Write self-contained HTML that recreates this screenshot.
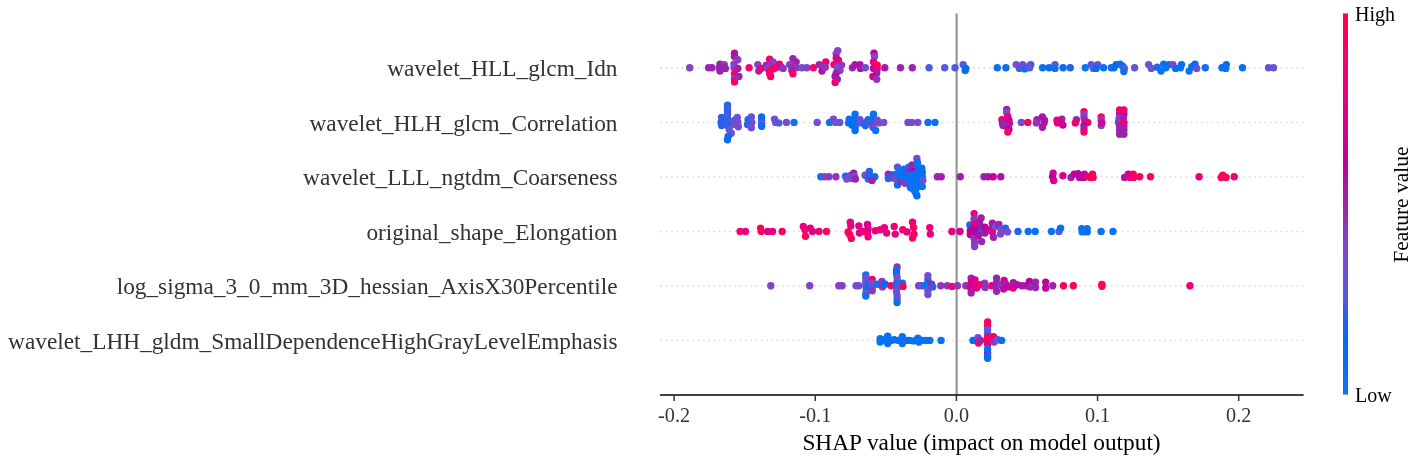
<!DOCTYPE html><html><head><meta charset="utf-8"><style>html,body{margin:0;padding:0;background:#fff;width:1417px;height:463px;overflow:hidden}svg{display:block}text{font-family:"Liberation Serif",serif}</style></head><body>
<svg style="will-change:transform" width="1417" height="463" viewBox="0 0 1417 463">
<line x1="660.1" y1="68.0" x2="1303.5" y2="68.0" stroke="#e0e0e0" stroke-width="1.4" stroke-dasharray="2 3.3025"/>
<line x1="660.1" y1="122.5" x2="1303.5" y2="122.5" stroke="#e0e0e0" stroke-width="1.4" stroke-dasharray="2 3.3025"/>
<line x1="660.1" y1="177.0" x2="1303.5" y2="177.0" stroke="#e0e0e0" stroke-width="1.4" stroke-dasharray="2 3.3025"/>
<line x1="660.1" y1="231.5" x2="1303.5" y2="231.5" stroke="#e0e0e0" stroke-width="1.4" stroke-dasharray="2 3.3025"/>
<line x1="660.1" y1="286.0" x2="1303.5" y2="286.0" stroke="#e0e0e0" stroke-width="1.4" stroke-dasharray="2 3.3025"/>
<line x1="660.1" y1="340.5" x2="1303.5" y2="340.5" stroke="#e0e0e0" stroke-width="1.4" stroke-dasharray="2 3.3025"/>
<line x1="956.6" y1="13.5" x2="956.6" y2="395" stroke="#979797" stroke-width="2.2"/>
<g><circle cx="689.7" cy="67.8" r="3.7" fill="#8443c6"/><circle cx="708.6" cy="67.8" r="3.7" fill="#9b23ad"/><circle cx="711.9" cy="67.8" r="3.7" fill="#9b23ad"/><circle cx="720.0" cy="64.1" r="3.7" fill="#9b23ad"/><circle cx="724.3" cy="64.6" r="3.7" fill="#8443c6"/><circle cx="719.4" cy="67.8" r="3.7" fill="#9b23ad"/><circle cx="723.2" cy="67.3" r="3.7" fill="#9b23ad"/><circle cx="725.4" cy="68.4" r="3.7" fill="#9b23ad"/><circle cx="720.0" cy="71.1" r="3.7" fill="#9b23ad"/><circle cx="734.5" cy="53.3" r="3.7" fill="#ab15a7"/><circle cx="734.5" cy="56.5" r="3.7" fill="#ab15a7"/><circle cx="737.8" cy="59.7" r="3.7" fill="#8443c6"/><circle cx="734.0" cy="64.1" r="3.7" fill="#9135ba"/><circle cx="734.0" cy="67.8" r="3.7" fill="#764cd0"/><circle cx="737.8" cy="68.4" r="3.7" fill="#9b23ad"/><circle cx="734.5" cy="73.8" r="3.7" fill="#f90067"/><circle cx="738.9" cy="76.5" r="3.7" fill="#9b23ad"/><circle cx="734.5" cy="78.6" r="3.7" fill="#9135ba"/><circle cx="734.5" cy="81.9" r="3.7" fill="#f90067"/><circle cx="749.1" cy="67.8" r="3.7" fill="#f90067"/><circle cx="757.8" cy="64.6" r="3.7" fill="#8443c6"/><circle cx="758.8" cy="71.1" r="3.7" fill="#9b23ad"/><circle cx="761.0" cy="68.4" r="3.7" fill="#f20072"/><circle cx="769.6" cy="59.2" r="3.7" fill="#f90067"/><circle cx="772.9" cy="61.9" r="3.7" fill="#8443c6"/><circle cx="766.4" cy="65.1" r="3.7" fill="#9b23ad"/><circle cx="770.7" cy="65.1" r="3.7" fill="#9135ba"/><circle cx="775.0" cy="64.6" r="3.7" fill="#8443c6"/><circle cx="767.5" cy="68.4" r="3.7" fill="#8443c6"/><circle cx="769.6" cy="71.1" r="3.7" fill="#f90067"/><circle cx="772.9" cy="68.9" r="3.7" fill="#f90067"/><circle cx="776.1" cy="67.8" r="3.7" fill="#f90067"/><circle cx="769.6" cy="73.8" r="3.7" fill="#f90067"/><circle cx="770.7" cy="76.5" r="3.7" fill="#f90067"/><circle cx="779.4" cy="64.1" r="3.7" fill="#f20072"/><circle cx="781.5" cy="67.3" r="3.7" fill="#9b23ad"/><circle cx="783.1" cy="68.4" r="3.7" fill="#9135ba"/><circle cx="792.9" cy="58.7" r="3.7" fill="#9b23ad"/><circle cx="796.1" cy="61.9" r="3.7" fill="#9b23ad"/><circle cx="789.6" cy="64.6" r="3.7" fill="#8443c6"/><circle cx="792.3" cy="67.3" r="3.7" fill="#9135ba"/><circle cx="796.6" cy="67.8" r="3.7" fill="#9135ba"/><circle cx="791.8" cy="70.5" r="3.7" fill="#9b23ad"/><circle cx="792.9" cy="73.8" r="3.7" fill="#f90067"/><circle cx="802.0" cy="67.8" r="3.7" fill="#764cd0"/><circle cx="806.9" cy="67.8" r="3.7" fill="#8443c6"/><circle cx="813.4" cy="67.8" r="3.7" fill="#f90067"/><circle cx="819.3" cy="64.6" r="3.7" fill="#9b23ad"/><circle cx="825.8" cy="61.9" r="3.7" fill="#f20072"/><circle cx="822.5" cy="67.8" r="3.7" fill="#9135ba"/><circle cx="822.0" cy="71.1" r="3.7" fill="#ab15a7"/><circle cx="825.2" cy="67.3" r="3.7" fill="#9135ba"/><circle cx="837.8" cy="50.6" r="3.7" fill="#8443c6"/><circle cx="836.2" cy="53.8" r="3.7" fill="#8443c6"/><circle cx="838.4" cy="60.3" r="3.7" fill="#d5008f"/><circle cx="836.2" cy="58.1" r="3.7" fill="#e00086"/><circle cx="834.0" cy="64.6" r="3.7" fill="#f20072"/><circle cx="841.6" cy="65.1" r="3.7" fill="#9135ba"/><circle cx="837.3" cy="67.8" r="3.7" fill="#764cd0"/><circle cx="840.0" cy="70.5" r="3.7" fill="#8443c6"/><circle cx="836.2" cy="73.2" r="3.7" fill="#9b23ad"/><circle cx="835.1" cy="76.5" r="3.7" fill="#ab15a7"/><circle cx="837.3" cy="79.2" r="3.7" fill="#9b23ad"/><circle cx="835.1" cy="82.4" r="3.7" fill="#f90067"/><circle cx="852.4" cy="67.8" r="3.7" fill="#9b23ad"/><circle cx="855.1" cy="64.6" r="3.7" fill="#ab15a7"/><circle cx="860.0" cy="64.6" r="3.7" fill="#ab15a7"/><circle cx="860.5" cy="68.4" r="3.7" fill="#ab15a7"/><circle cx="865.4" cy="67.8" r="3.7" fill="#764cd0"/><circle cx="874.0" cy="53.3" r="3.7" fill="#bb00a0"/><circle cx="874.5" cy="56.5" r="3.7" fill="#764cd0"/><circle cx="873.5" cy="61.9" r="3.7" fill="#e9007c"/><circle cx="877.2" cy="65.1" r="3.7" fill="#fe005c"/><circle cx="873.5" cy="68.4" r="3.7" fill="#c80098"/><circle cx="877.2" cy="68.9" r="3.7" fill="#f20072"/><circle cx="876.7" cy="73.2" r="3.7" fill="#9b23ad"/><circle cx="872.9" cy="76.5" r="3.7" fill="#d5008f"/><circle cx="876.7" cy="79.2" r="3.7" fill="#9135ba"/><circle cx="884.8" cy="67.8" r="3.7" fill="#ab15a7"/><circle cx="900.5" cy="67.8" r="3.7" fill="#9b23ad"/><circle cx="912.3" cy="67.8" r="3.7" fill="#9b23ad"/><circle cx="929.1" cy="67.8" r="3.7" fill="#4f5ce0"/><circle cx="944.7" cy="67.8" r="3.7" fill="#4f5ce0"/><circle cx="955.0" cy="67.8" r="3.7" fill="#4f5ce0"/><circle cx="963.1" cy="64.6" r="3.7" fill="#4f5ce0"/><circle cx="965.2" cy="70.5" r="3.7" fill="#0972f2"/><circle cx="965.8" cy="68.4" r="3.7" fill="#086def"/><circle cx="997.3" cy="67.8" r="3.7" fill="#0972f2"/><circle cx="1005.9" cy="67.8" r="3.7" fill="#086def"/><circle cx="1016.2" cy="64.6" r="3.7" fill="#764cd0"/><circle cx="1019.4" cy="68.4" r="3.7" fill="#4f5ce0"/><circle cx="1022.6" cy="64.6" r="3.7" fill="#8443c6"/><circle cx="1024.8" cy="68.9" r="3.7" fill="#0972f2"/><circle cx="1029.7" cy="67.8" r="3.7" fill="#4f5ce0"/><circle cx="1030.7" cy="64.6" r="3.7" fill="#2862e6"/><circle cx="1029.1" cy="66.2" r="3.7" fill="#6654d8"/><circle cx="1042.6" cy="67.8" r="3.7" fill="#0972f2"/><circle cx="1049.1" cy="67.8" r="3.7" fill="#086def"/><circle cx="1055.0" cy="64.6" r="3.7" fill="#4f5ce0"/><circle cx="1055.0" cy="68.4" r="3.7" fill="#0972f2"/><circle cx="1063.1" cy="67.8" r="3.7" fill="#086def"/><circle cx="1070.2" cy="67.8" r="3.7" fill="#2862e6"/><circle cx="1085.3" cy="67.8" r="3.7" fill="#0972f2"/><circle cx="1091.2" cy="64.6" r="3.7" fill="#4f5ce0"/><circle cx="1093.4" cy="68.4" r="3.7" fill="#6654d8"/><circle cx="1097.7" cy="64.6" r="3.7" fill="#6654d8"/><circle cx="1096.1" cy="68.4" r="3.7" fill="#086def"/><circle cx="1103.6" cy="67.8" r="3.7" fill="#0972f2"/><circle cx="1111.3" cy="67.8" r="3.7" fill="#0972f2"/><circle cx="1114.0" cy="67.8" r="3.7" fill="#086def"/><circle cx="1116.2" cy="64.6" r="3.7" fill="#0668eb"/><circle cx="1120.0" cy="64.1" r="3.7" fill="#086def"/><circle cx="1122.7" cy="66.2" r="3.7" fill="#086def"/><circle cx="1124.3" cy="68.4" r="3.7" fill="#764cd0"/><circle cx="1123.8" cy="71.6" r="3.7" fill="#0972f2"/><circle cx="1134.6" cy="67.8" r="3.7" fill="#6654d8"/><circle cx="1148.6" cy="64.6" r="3.7" fill="#764cd0"/><circle cx="1151.3" cy="68.4" r="3.7" fill="#6654d8"/><circle cx="1157.2" cy="67.3" r="3.7" fill="#2862e6"/><circle cx="1161.0" cy="71.1" r="3.7" fill="#0972f2"/><circle cx="1163.7" cy="64.1" r="3.7" fill="#0972f2"/><circle cx="1165.9" cy="67.8" r="3.7" fill="#0972f2"/><circle cx="1169.1" cy="64.6" r="3.7" fill="#086def"/><circle cx="1172.9" cy="64.6" r="3.7" fill="#8443c6"/><circle cx="1175.6" cy="68.4" r="3.7" fill="#086def"/><circle cx="1180.5" cy="67.8" r="3.7" fill="#0972f2"/><circle cx="1181.5" cy="64.6" r="3.7" fill="#086def"/><circle cx="1189.1" cy="71.1" r="3.7" fill="#0972f2"/><circle cx="1191.8" cy="66.8" r="3.7" fill="#0972f2"/><circle cx="1195.0" cy="64.1" r="3.7" fill="#086def"/><circle cx="1196.7" cy="68.4" r="3.7" fill="#764cd0"/><circle cx="1205.3" cy="67.8" r="3.7" fill="#0972f2"/><circle cx="1222.0" cy="67.8" r="3.7" fill="#0972f2"/><circle cx="1226.3" cy="64.6" r="3.7" fill="#086def"/><circle cx="1225.8" cy="68.4" r="3.7" fill="#0972f2"/><circle cx="1242.5" cy="67.8" r="3.7" fill="#0972f2"/><circle cx="1268.6" cy="67.8" r="3.7" fill="#6654d8"/><circle cx="1273.5" cy="67.8" r="3.7" fill="#6654d8"/><circle cx="721.6" cy="117.5" r="3.7" fill="#2862e6"/><circle cx="721.1" cy="122.4" r="3.7" fill="#2862e6"/><circle cx="721.6" cy="125.6" r="3.7" fill="#2862e6"/><circle cx="723.8" cy="120.2" r="3.7" fill="#2862e6"/><circle cx="724.3" cy="124.0" r="3.7" fill="#2862e6"/><circle cx="734.6" cy="120.2" r="3.7" fill="#764cd0"/><circle cx="737.3" cy="117.5" r="3.7" fill="#764cd0"/><circle cx="737.8" cy="122.4" r="3.7" fill="#764cd0"/><circle cx="738.3" cy="126.7" r="3.7" fill="#764cd0"/><circle cx="734.6" cy="124.5" r="3.7" fill="#764cd0"/><circle cx="732.4" cy="122.4" r="3.7" fill="#6654d8"/><circle cx="727.5" cy="105.1" r="3.7" fill="#086def"/><circle cx="727.5" cy="108.3" r="3.7" fill="#4f5ce0"/><circle cx="727.5" cy="111.6" r="3.7" fill="#2862e6"/><circle cx="727.5" cy="114.8" r="3.7" fill="#3c60e4"/><circle cx="727.5" cy="118.6" r="3.7" fill="#3c60e4"/><circle cx="727.5" cy="122.4" r="3.7" fill="#3c60e4"/><circle cx="727.5" cy="125.6" r="3.7" fill="#2862e6"/><circle cx="729.2" cy="129.4" r="3.7" fill="#6654d8"/><circle cx="731.3" cy="133.2" r="3.7" fill="#6654d8"/><circle cx="728.1" cy="136.4" r="3.7" fill="#086def"/><circle cx="727.5" cy="139.7" r="3.7" fill="#086def"/><circle cx="751.3" cy="117.0" r="3.7" fill="#764cd0"/><circle cx="748.1" cy="119.7" r="3.7" fill="#2862e6"/><circle cx="751.8" cy="122.4" r="3.7" fill="#764cd0"/><circle cx="747.5" cy="124.5" r="3.7" fill="#2862e6"/><circle cx="751.3" cy="127.8" r="3.7" fill="#764cd0"/><circle cx="761.6" cy="117.0" r="3.7" fill="#086def"/><circle cx="761.6" cy="120.2" r="3.7" fill="#086def"/><circle cx="761.6" cy="123.5" r="3.7" fill="#6654d8"/><circle cx="761.6" cy="126.2" r="3.7" fill="#086def"/><circle cx="774.5" cy="119.1" r="3.7" fill="#764cd0"/><circle cx="775.6" cy="122.4" r="3.7" fill="#764cd0"/><circle cx="778.8" cy="122.9" r="3.7" fill="#4f5ce0"/><circle cx="786.4" cy="122.4" r="3.7" fill="#764cd0"/><circle cx="794.0" cy="122.4" r="3.7" fill="#0972f2"/><circle cx="817.2" cy="122.4" r="3.7" fill="#764cd0"/><circle cx="829.6" cy="122.4" r="3.7" fill="#0972f2"/><circle cx="833.4" cy="119.1" r="3.7" fill="#764cd0"/><circle cx="835.5" cy="122.4" r="3.7" fill="#6654d8"/><circle cx="839.8" cy="122.4" r="3.7" fill="#6654d8"/><circle cx="849.2" cy="119.1" r="3.7" fill="#0972f2"/><circle cx="848.6" cy="122.9" r="3.7" fill="#0972f2"/><circle cx="851.9" cy="125.1" r="3.7" fill="#086def"/><circle cx="855.1" cy="114.3" r="3.7" fill="#0972f2"/><circle cx="855.1" cy="118.6" r="3.7" fill="#086def"/><circle cx="854.0" cy="122.4" r="3.7" fill="#0972f2"/><circle cx="855.1" cy="127.2" r="3.7" fill="#086def"/><circle cx="855.1" cy="130.5" r="3.7" fill="#086def"/><circle cx="860.0" cy="119.7" r="3.7" fill="#764cd0"/><circle cx="860.5" cy="122.9" r="3.7" fill="#6654d8"/><circle cx="865.4" cy="125.6" r="3.7" fill="#086def"/><circle cx="868.1" cy="119.7" r="3.7" fill="#086def"/><circle cx="865.9" cy="122.4" r="3.7" fill="#2862e6"/><circle cx="870.2" cy="122.9" r="3.7" fill="#6654d8"/><circle cx="873.5" cy="114.3" r="3.7" fill="#0972f2"/><circle cx="873.5" cy="118.6" r="3.7" fill="#0972f2"/><circle cx="872.4" cy="122.9" r="3.7" fill="#086def"/><circle cx="872.9" cy="127.2" r="3.7" fill="#8443c6"/><circle cx="875.6" cy="130.5" r="3.7" fill="#0972f2"/><circle cx="877.3" cy="120.2" r="3.7" fill="#764cd0"/><circle cx="878.9" cy="122.9" r="3.7" fill="#764cd0"/><circle cx="883.7" cy="122.4" r="3.7" fill="#764cd0"/><circle cx="908.0" cy="122.4" r="3.7" fill="#764cd0"/><circle cx="911.8" cy="122.4" r="3.7" fill="#764cd0"/><circle cx="917.8" cy="122.4" r="3.7" fill="#764cd0"/><circle cx="928.0" cy="122.4" r="3.7" fill="#0972f2"/><circle cx="935.0" cy="122.4" r="3.7" fill="#0972f2"/><circle cx="1006.7" cy="109.4" r="3.7" fill="#9b23ad"/><circle cx="1006.7" cy="112.7" r="3.7" fill="#764cd0"/><circle cx="1007.8" cy="116.4" r="3.7" fill="#f20072"/><circle cx="1001.9" cy="119.7" r="3.7" fill="#f20072"/><circle cx="1002.4" cy="122.9" r="3.7" fill="#9b23ad"/><circle cx="1003.0" cy="125.6" r="3.7" fill="#9b23ad"/><circle cx="1008.9" cy="120.2" r="3.7" fill="#bb00a0"/><circle cx="1009.4" cy="123.5" r="3.7" fill="#d5008f"/><circle cx="1006.2" cy="126.2" r="3.7" fill="#9b23ad"/><circle cx="1008.9" cy="129.4" r="3.7" fill="#bb00a0"/><circle cx="1007.8" cy="132.1" r="3.7" fill="#f90067"/><circle cx="1021.3" cy="122.4" r="3.7" fill="#764cd0"/><circle cx="1027.8" cy="122.4" r="3.7" fill="#f90067"/><circle cx="1037.0" cy="119.7" r="3.7" fill="#9b23ad"/><circle cx="1036.4" cy="122.9" r="3.7" fill="#9135ba"/><circle cx="1042.4" cy="117.0" r="3.7" fill="#ab15a7"/><circle cx="1044.5" cy="120.2" r="3.7" fill="#ab15a7"/><circle cx="1044.0" cy="122.9" r="3.7" fill="#ab15a7"/><circle cx="1042.4" cy="127.2" r="3.7" fill="#ab15a7"/><circle cx="1057.0" cy="120.2" r="3.7" fill="#f20072"/><circle cx="1057.5" cy="122.9" r="3.7" fill="#e9007c"/><circle cx="1061.8" cy="119.1" r="3.7" fill="#9b23ad"/><circle cx="1062.9" cy="125.1" r="3.7" fill="#bb00a0"/><circle cx="1060.2" cy="122.4" r="3.7" fill="#e00086"/><circle cx="1076.4" cy="119.7" r="3.7" fill="#9b23ad"/><circle cx="1075.3" cy="122.9" r="3.7" fill="#f90067"/><circle cx="1084.0" cy="111.6" r="3.7" fill="#f90067"/><circle cx="1084.0" cy="114.8" r="3.7" fill="#8443c6"/><circle cx="1084.0" cy="118.1" r="3.7" fill="#9135ba"/><circle cx="1085.0" cy="121.3" r="3.7" fill="#9b23ad"/><circle cx="1087.7" cy="122.4" r="3.7" fill="#f90067"/><circle cx="1084.0" cy="125.6" r="3.7" fill="#bb00a0"/><circle cx="1084.0" cy="128.9" r="3.7" fill="#9b23ad"/><circle cx="1084.0" cy="132.1" r="3.7" fill="#f90067"/><circle cx="1101.2" cy="117.0" r="3.7" fill="#f90067"/><circle cx="1101.2" cy="125.6" r="3.7" fill="#764cd0"/><circle cx="1101.2" cy="120.2" r="3.7" fill="#8443c6"/><circle cx="1101.8" cy="122.9" r="3.7" fill="#d5008f"/><circle cx="1119.6" cy="114.3" r="3.7" fill="#9b23ad"/><circle cx="1123.9" cy="114.3" r="3.7" fill="#ab15a7"/><circle cx="1119.0" cy="118.6" r="3.7" fill="#764cd0"/><circle cx="1123.4" cy="118.1" r="3.7" fill="#9b23ad"/><circle cx="1118.5" cy="122.4" r="3.7" fill="#9135ba"/><circle cx="1119.6" cy="126.2" r="3.7" fill="#9b23ad"/><circle cx="1123.9" cy="126.2" r="3.7" fill="#9b23ad"/><circle cx="1119.6" cy="129.9" r="3.7" fill="#9b23ad"/><circle cx="1123.9" cy="129.9" r="3.7" fill="#9b23ad"/><circle cx="1119.6" cy="134.3" r="3.7" fill="#9b23ad"/><circle cx="1123.9" cy="134.3" r="3.7" fill="#9b23ad"/><circle cx="1123.9" cy="122.4" r="3.7" fill="#e9007c"/><circle cx="1119.6" cy="110.0" r="3.7" fill="#f20072"/><circle cx="1123.9" cy="110.0" r="3.7" fill="#f20072"/><circle cx="820.8" cy="176.8" r="3.7" fill="#0972f2"/><circle cx="824.6" cy="176.8" r="3.7" fill="#8443c6"/><circle cx="828.9" cy="176.8" r="3.7" fill="#9135ba"/><circle cx="835.9" cy="176.8" r="3.7" fill="#9135ba"/><circle cx="845.6" cy="176.3" r="3.7" fill="#086def"/><circle cx="846.7" cy="179.0" r="3.7" fill="#764cd0"/><circle cx="848.9" cy="177.4" r="3.7" fill="#6654d8"/><circle cx="850.0" cy="175.8" r="3.7" fill="#6654d8"/><circle cx="851.6" cy="178.5" r="3.7" fill="#6654d8"/><circle cx="853.7" cy="173.1" r="3.7" fill="#ab15a7"/><circle cx="854.3" cy="176.3" r="3.7" fill="#6654d8"/><circle cx="855.4" cy="179.0" r="3.7" fill="#9b23ad"/><circle cx="865.1" cy="175.2" r="3.7" fill="#764cd0"/><circle cx="869.4" cy="171.4" r="3.7" fill="#2862e6"/><circle cx="868.3" cy="179.0" r="3.7" fill="#2862e6"/><circle cx="869.9" cy="176.3" r="3.7" fill="#2862e6"/><circle cx="874.8" cy="176.8" r="3.7" fill="#086def"/><circle cx="872.1" cy="180.6" r="3.7" fill="#9b23ad"/><circle cx="888.3" cy="174.1" r="3.7" fill="#9b23ad"/><circle cx="888.3" cy="178.5" r="3.7" fill="#2862e6"/><circle cx="893.2" cy="174.7" r="3.7" fill="#2862e6"/><circle cx="894.2" cy="178.5" r="3.7" fill="#8443c6"/><circle cx="897.5" cy="167.1" r="3.7" fill="#4f5ce0"/><circle cx="897.5" cy="184.9" r="3.7" fill="#086def"/><circle cx="898.6" cy="172.5" r="3.7" fill="#0972f2"/><circle cx="899.6" cy="176.8" r="3.7" fill="#0972f2"/><circle cx="900.7" cy="181.2" r="3.7" fill="#9b23ad"/><circle cx="902.9" cy="173.6" r="3.7" fill="#086def"/><circle cx="902.9" cy="179.0" r="3.7" fill="#0972f2"/><circle cx="904.0" cy="169.3" r="3.7" fill="#0972f2"/><circle cx="905.0" cy="183.3" r="3.7" fill="#9135ba"/><circle cx="908.8" cy="167.1" r="3.7" fill="#0972f2"/><circle cx="912.1" cy="165.0" r="3.7" fill="#9b23ad"/><circle cx="909.4" cy="171.4" r="3.7" fill="#9b23ad"/><circle cx="913.7" cy="171.4" r="3.7" fill="#bb00a0"/><circle cx="909.4" cy="175.8" r="3.7" fill="#0972f2"/><circle cx="912.6" cy="174.7" r="3.7" fill="#0972f2"/><circle cx="908.8" cy="180.1" r="3.7" fill="#0972f2"/><circle cx="911.5" cy="184.4" r="3.7" fill="#ab15a7"/><circle cx="910.4" cy="187.6" r="3.7" fill="#0972f2"/><circle cx="913.7" cy="189.8" r="3.7" fill="#0972f2"/><circle cx="915.8" cy="193.0" r="3.7" fill="#0972f2"/><circle cx="916.9" cy="195.7" r="3.7" fill="#086def"/><circle cx="916.9" cy="158.5" r="3.7" fill="#764cd0"/><circle cx="917.5" cy="162.8" r="3.7" fill="#0972f2"/><circle cx="918.0" cy="167.1" r="3.7" fill="#0972f2"/><circle cx="921.8" cy="168.2" r="3.7" fill="#0972f2"/><circle cx="916.9" cy="173.6" r="3.7" fill="#0972f2"/><circle cx="922.3" cy="172.5" r="3.7" fill="#0972f2"/><circle cx="917.5" cy="177.9" r="3.7" fill="#0972f2"/><circle cx="922.3" cy="176.8" r="3.7" fill="#0972f2"/><circle cx="918.0" cy="182.2" r="3.7" fill="#0972f2"/><circle cx="922.9" cy="180.6" r="3.7" fill="#764cd0"/><circle cx="918.0" cy="186.6" r="3.7" fill="#0972f2"/><circle cx="913.7" cy="179.0" r="3.7" fill="#0972f2"/><circle cx="910.4" cy="181.2" r="3.7" fill="#0972f2"/><circle cx="907.7" cy="177.9" r="3.7" fill="#0972f2"/><circle cx="914.2" cy="182.2" r="3.7" fill="#0972f2"/><circle cx="922.3" cy="186.6" r="3.7" fill="#0972f2"/><circle cx="915.8" cy="188.7" r="3.7" fill="#0972f2"/><circle cx="937.4" cy="176.8" r="3.7" fill="#9b23ad"/><circle cx="941.2" cy="176.8" r="3.7" fill="#9b23ad"/><circle cx="960.3" cy="176.8" r="3.7" fill="#9b23ad"/><circle cx="984.0" cy="176.8" r="3.7" fill="#9b23ad"/><circle cx="988.3" cy="176.8" r="3.7" fill="#ab15a7"/><circle cx="993.2" cy="176.8" r="3.7" fill="#c80098"/><circle cx="1000.8" cy="176.8" r="3.7" fill="#ab15a7"/><circle cx="1053.1" cy="173.1" r="3.7" fill="#d5008f"/><circle cx="1052.6" cy="176.8" r="3.7" fill="#bb00a0"/><circle cx="1053.7" cy="180.6" r="3.7" fill="#e00086"/><circle cx="1062.9" cy="175.8" r="3.7" fill="#d5008f"/><circle cx="1071.0" cy="177.4" r="3.7" fill="#9b23ad"/><circle cx="1074.2" cy="174.1" r="3.7" fill="#bb00a0"/><circle cx="1078.0" cy="173.6" r="3.7" fill="#bb00a0"/><circle cx="1079.6" cy="177.4" r="3.7" fill="#bb00a0"/><circle cx="1084.4" cy="174.1" r="3.7" fill="#c80098"/><circle cx="1083.9" cy="177.4" r="3.7" fill="#bb00a0"/><circle cx="1088.2" cy="176.8" r="3.7" fill="#f90067"/><circle cx="1090.4" cy="177.4" r="3.7" fill="#f90067"/><circle cx="1092.5" cy="174.1" r="3.7" fill="#fe005c"/><circle cx="1093.1" cy="177.4" r="3.7" fill="#fe005c"/><circle cx="1124.6" cy="177.4" r="3.7" fill="#ab15a7"/><circle cx="1128.3" cy="174.1" r="3.7" fill="#c80098"/><circle cx="1130.0" cy="177.4" r="3.7" fill="#e9007c"/><circle cx="1133.2" cy="174.1" r="3.7" fill="#f90067"/><circle cx="1133.7" cy="177.4" r="3.7" fill="#f90067"/><circle cx="1139.7" cy="176.8" r="3.7" fill="#f90067"/><circle cx="1150.5" cy="176.8" r="3.7" fill="#fe005c"/><circle cx="1199.1" cy="176.8" r="3.7" fill="#e9007c"/><circle cx="1221.2" cy="177.4" r="3.7" fill="#fe005c"/><circle cx="1222.8" cy="175.2" r="3.7" fill="#fe005c"/><circle cx="1226.1" cy="177.4" r="3.7" fill="#fe005c"/><circle cx="1234.2" cy="176.8" r="3.7" fill="#f20072"/><circle cx="740.1" cy="231.4" r="3.7" fill="#f90067"/><circle cx="745.5" cy="231.4" r="3.7" fill="#e9007c"/><circle cx="760.6" cy="228.1" r="3.7" fill="#fe005c"/><circle cx="761.2" cy="231.4" r="3.7" fill="#fe005c"/><circle cx="767.7" cy="231.4" r="3.7" fill="#e00086"/><circle cx="772.5" cy="231.4" r="3.7" fill="#e00086"/><circle cx="782.2" cy="231.4" r="3.7" fill="#f90067"/><circle cx="803.3" cy="226.5" r="3.7" fill="#e9007c"/><circle cx="804.9" cy="229.8" r="3.7" fill="#f20072"/><circle cx="805.5" cy="236.2" r="3.7" fill="#fe005c"/><circle cx="810.3" cy="228.1" r="3.7" fill="#e00086"/><circle cx="812.5" cy="231.4" r="3.7" fill="#e00086"/><circle cx="819.0" cy="231.4" r="3.7" fill="#e9007c"/><circle cx="826.5" cy="231.4" r="3.7" fill="#fe005c"/><circle cx="850.3" cy="222.2" r="3.7" fill="#e9007c"/><circle cx="850.8" cy="226.0" r="3.7" fill="#e9007c"/><circle cx="848.1" cy="231.9" r="3.7" fill="#f90067"/><circle cx="849.7" cy="234.6" r="3.7" fill="#fe005c"/><circle cx="851.3" cy="238.4" r="3.7" fill="#fe005c"/><circle cx="858.9" cy="226.0" r="3.7" fill="#e00086"/><circle cx="859.4" cy="233.0" r="3.7" fill="#e00086"/><circle cx="863.2" cy="231.4" r="3.7" fill="#e9007c"/><circle cx="867.5" cy="224.4" r="3.7" fill="#e00086"/><circle cx="868.1" cy="228.7" r="3.7" fill="#d5008f"/><circle cx="867.5" cy="233.0" r="3.7" fill="#e9007c"/><circle cx="868.1" cy="236.8" r="3.7" fill="#e9007c"/><circle cx="875.3" cy="230.8" r="3.7" fill="#e9007c"/><circle cx="880.1" cy="229.8" r="3.7" fill="#e9007c"/><circle cx="884.4" cy="227.6" r="3.7" fill="#e9007c"/><circle cx="886.6" cy="233.0" r="3.7" fill="#e9007c"/><circle cx="894.2" cy="226.5" r="3.7" fill="#e9007c"/><circle cx="895.2" cy="234.1" r="3.7" fill="#e9007c"/><circle cx="902.8" cy="229.8" r="3.7" fill="#f20072"/><circle cx="907.1" cy="231.9" r="3.7" fill="#e9007c"/><circle cx="912.5" cy="222.2" r="3.7" fill="#f20072"/><circle cx="913.6" cy="227.6" r="3.7" fill="#f20072"/><circle cx="914.1" cy="234.1" r="3.7" fill="#f20072"/><circle cx="912.5" cy="237.9" r="3.7" fill="#fe005c"/><circle cx="929.8" cy="227.6" r="3.7" fill="#e9007c"/><circle cx="930.3" cy="234.1" r="3.7" fill="#e9007c"/><circle cx="951.9" cy="231.4" r="3.7" fill="#e9007c"/><circle cx="960.0" cy="231.4" r="3.7" fill="#d5008f"/><circle cx="974.1" cy="213.6" r="3.7" fill="#e00086"/><circle cx="981.1" cy="217.9" r="3.7" fill="#9b23ad"/><circle cx="974.1" cy="219.0" r="3.7" fill="#9135ba"/><circle cx="969.8" cy="224.9" r="3.7" fill="#2862e6"/><circle cx="979.5" cy="222.2" r="3.7" fill="#ab15a7"/><circle cx="974.1" cy="224.4" r="3.7" fill="#e9007c"/><circle cx="970.3" cy="230.8" r="3.7" fill="#bb00a0"/><circle cx="970.3" cy="234.6" r="3.7" fill="#bb00a0"/><circle cx="974.1" cy="229.8" r="3.7" fill="#bb00a0"/><circle cx="975.2" cy="233.0" r="3.7" fill="#bb00a0"/><circle cx="977.3" cy="227.6" r="3.7" fill="#bb00a0"/><circle cx="980.6" cy="226.5" r="3.7" fill="#ab15a7"/><circle cx="981.6" cy="231.9" r="3.7" fill="#076bed"/><circle cx="984.9" cy="227.1" r="3.7" fill="#bb00a0"/><circle cx="984.9" cy="233.0" r="3.7" fill="#ab15a7"/><circle cx="989.2" cy="229.8" r="3.7" fill="#ab15a7"/><circle cx="992.4" cy="223.3" r="3.7" fill="#ab15a7"/><circle cx="992.4" cy="231.9" r="3.7" fill="#f20072"/><circle cx="993.5" cy="237.3" r="3.7" fill="#9b23ad"/><circle cx="995.7" cy="226.5" r="3.7" fill="#6654d8"/><circle cx="998.9" cy="224.4" r="3.7" fill="#9b23ad"/><circle cx="1001.1" cy="229.8" r="3.7" fill="#764cd0"/><circle cx="1000.5" cy="234.1" r="3.7" fill="#8443c6"/><circle cx="1005.4" cy="228.1" r="3.7" fill="#2862e6"/><circle cx="1007.5" cy="231.9" r="3.7" fill="#764cd0"/><circle cx="974.1" cy="238.4" r="3.7" fill="#9135ba"/><circle cx="974.6" cy="242.7" r="3.7" fill="#9135ba"/><circle cx="974.6" cy="246.5" r="3.7" fill="#8443c6"/><circle cx="981.6" cy="241.6" r="3.7" fill="#9b23ad"/><circle cx="978.4" cy="235.7" r="3.7" fill="#ab15a7"/><circle cx="1018.0" cy="231.4" r="3.7" fill="#2862e6"/><circle cx="1028.2" cy="231.4" r="3.7" fill="#0972f2"/><circle cx="1035.2" cy="231.4" r="3.7" fill="#0972f2"/><circle cx="1051.4" cy="231.4" r="3.7" fill="#0972f2"/><circle cx="1059.0" cy="231.4" r="3.7" fill="#4f5ce0"/><circle cx="1060.6" cy="228.1" r="3.7" fill="#086def"/><circle cx="1081.7" cy="228.7" r="3.7" fill="#0972f2"/><circle cx="1082.2" cy="231.9" r="3.7" fill="#0972f2"/><circle cx="1087.1" cy="228.7" r="3.7" fill="#0972f2"/><circle cx="1087.1" cy="231.9" r="3.7" fill="#086def"/><circle cx="1101.1" cy="231.4" r="3.7" fill="#0972f2"/><circle cx="1113.0" cy="231.4" r="3.7" fill="#0972f2"/><circle cx="770.8" cy="285.8" r="3.7" fill="#8443c6"/><circle cx="809.7" cy="285.8" r="3.7" fill="#8443c6"/><circle cx="838.8" cy="285.8" r="3.7" fill="#8443c6"/><circle cx="842.1" cy="285.8" r="3.7" fill="#8443c6"/><circle cx="856.1" cy="285.8" r="3.7" fill="#764cd0"/><circle cx="858.8" cy="285.8" r="3.7" fill="#764cd0"/><circle cx="865.8" cy="275.0" r="3.7" fill="#0972f2"/><circle cx="865.8" cy="278.3" r="3.7" fill="#764cd0"/><circle cx="865.8" cy="282.1" r="3.7" fill="#764cd0"/><circle cx="865.8" cy="285.8" r="3.7" fill="#4f5ce0"/><circle cx="866.3" cy="289.6" r="3.7" fill="#0972f2"/><circle cx="865.8" cy="293.4" r="3.7" fill="#764cd0"/><circle cx="865.8" cy="296.1" r="3.7" fill="#0972f2"/><circle cx="869.0" cy="283.7" r="3.7" fill="#086def"/><circle cx="872.2" cy="279.4" r="3.7" fill="#f90067"/><circle cx="871.2" cy="283.1" r="3.7" fill="#764cd0"/><circle cx="872.2" cy="286.9" r="3.7" fill="#764cd0"/><circle cx="872.2" cy="290.7" r="3.7" fill="#9135ba"/><circle cx="877.6" cy="284.2" r="3.7" fill="#0972f2"/><circle cx="882.0" cy="281.5" r="3.7" fill="#9135ba"/><circle cx="882.5" cy="286.9" r="3.7" fill="#9135ba"/><circle cx="885.2" cy="284.2" r="3.7" fill="#0668eb"/><circle cx="891.1" cy="285.8" r="3.7" fill="#fe005c"/><circle cx="897.1" cy="266.9" r="3.7" fill="#9135ba"/><circle cx="896.5" cy="270.2" r="3.7" fill="#086def"/><circle cx="896.5" cy="273.4" r="3.7" fill="#086def"/><circle cx="897.1" cy="277.2" r="3.7" fill="#764cd0"/><circle cx="897.1" cy="281.0" r="3.7" fill="#6654d8"/><circle cx="896.5" cy="284.2" r="3.7" fill="#0972f2"/><circle cx="897.1" cy="288.0" r="3.7" fill="#0972f2"/><circle cx="896.5" cy="291.8" r="3.7" fill="#6654d8"/><circle cx="897.1" cy="295.6" r="3.7" fill="#764cd0"/><circle cx="897.1" cy="298.8" r="3.7" fill="#6654d8"/><circle cx="897.1" cy="302.6" r="3.7" fill="#086def"/><circle cx="900.3" cy="285.8" r="3.7" fill="#6654d8"/><circle cx="902.5" cy="283.1" r="3.7" fill="#086def"/><circle cx="903.0" cy="286.4" r="3.7" fill="#fe005c"/><circle cx="918.7" cy="285.8" r="3.7" fill="#9135ba"/><circle cx="921.4" cy="285.8" r="3.7" fill="#6654d8"/><circle cx="924.1" cy="285.8" r="3.7" fill="#2862e6"/><circle cx="927.9" cy="275.6" r="3.7" fill="#764cd0"/><circle cx="927.9" cy="279.4" r="3.7" fill="#6654d8"/><circle cx="927.9" cy="282.6" r="3.7" fill="#086def"/><circle cx="927.9" cy="286.4" r="3.7" fill="#0972f2"/><circle cx="927.9" cy="290.2" r="3.7" fill="#764cd0"/><circle cx="927.9" cy="294.5" r="3.7" fill="#764cd0"/><circle cx="931.6" cy="284.2" r="3.7" fill="#9b23ad"/><circle cx="932.7" cy="286.9" r="3.7" fill="#2862e6"/><circle cx="940.8" cy="285.8" r="3.7" fill="#9135ba"/><circle cx="947.3" cy="285.8" r="3.7" fill="#9135ba"/><circle cx="952.1" cy="286.4" r="3.7" fill="#fe005c"/><circle cx="957.5" cy="285.8" r="3.7" fill="#9135ba"/><circle cx="965.8" cy="285.8" r="3.7" fill="#9135ba"/><circle cx="971.2" cy="278.3" r="3.7" fill="#9b23ad"/><circle cx="971.2" cy="282.1" r="3.7" fill="#d5008f"/><circle cx="970.1" cy="286.4" r="3.7" fill="#d5008f"/><circle cx="971.2" cy="289.6" r="3.7" fill="#d5008f"/><circle cx="971.2" cy="292.9" r="3.7" fill="#9b23ad"/><circle cx="975.0" cy="279.9" r="3.7" fill="#e00086"/><circle cx="976.1" cy="284.2" r="3.7" fill="#e00086"/><circle cx="976.6" cy="288.0" r="3.7" fill="#e00086"/><circle cx="980.9" cy="284.8" r="3.7" fill="#f90067"/><circle cx="984.7" cy="283.1" r="3.7" fill="#9135ba"/><circle cx="985.2" cy="287.5" r="3.7" fill="#9135ba"/><circle cx="991.7" cy="285.8" r="3.7" fill="#e9007c"/><circle cx="996.6" cy="278.3" r="3.7" fill="#9b23ad"/><circle cx="996.6" cy="282.6" r="3.7" fill="#9b23ad"/><circle cx="996.0" cy="286.4" r="3.7" fill="#9b23ad"/><circle cx="996.6" cy="291.2" r="3.7" fill="#9b23ad"/><circle cx="1000.4" cy="284.8" r="3.7" fill="#9135ba"/><circle cx="1004.1" cy="280.4" r="3.7" fill="#d5008f"/><circle cx="1003.6" cy="289.1" r="3.7" fill="#ab15a7"/><circle cx="1005.8" cy="284.2" r="3.7" fill="#9b23ad"/><circle cx="1007.9" cy="286.9" r="3.7" fill="#d5008f"/><circle cx="1013.3" cy="282.6" r="3.7" fill="#ab15a7"/><circle cx="1013.3" cy="288.0" r="3.7" fill="#e00086"/><circle cx="1017.1" cy="284.8" r="3.7" fill="#ab15a7"/><circle cx="1022.0" cy="285.8" r="3.7" fill="#ab15a7"/><circle cx="1026.3" cy="285.8" r="3.7" fill="#ab15a7"/><circle cx="1029.5" cy="281.5" r="3.7" fill="#bb00a0"/><circle cx="1030.1" cy="286.9" r="3.7" fill="#9b23ad"/><circle cx="1033.8" cy="285.3" r="3.7" fill="#9135ba"/><circle cx="1035.5" cy="282.1" r="3.7" fill="#9b23ad"/><circle cx="1035.5" cy="287.5" r="3.7" fill="#9b23ad"/><circle cx="1045.7" cy="282.1" r="3.7" fill="#bb00a0"/><circle cx="1045.7" cy="288.0" r="3.7" fill="#bb00a0"/><circle cx="1052.7" cy="285.8" r="3.7" fill="#9b23ad"/><circle cx="1063.5" cy="285.8" r="3.7" fill="#fe005c"/><circle cx="1073.3" cy="285.8" r="3.7" fill="#fe005c"/><circle cx="1101.9" cy="284.5" r="3.7" fill="#fe005c"/><circle cx="1101.9" cy="286.3" r="3.7" fill="#fe005c"/><circle cx="1190.0" cy="285.8" r="3.7" fill="#f20072"/><circle cx="880.1" cy="338.8" r="3.7" fill="#0972f2"/><circle cx="880.1" cy="342.0" r="3.7" fill="#0972f2"/><circle cx="883.9" cy="339.8" r="3.7" fill="#0972f2"/><circle cx="887.7" cy="336.1" r="3.7" fill="#0972f2"/><circle cx="887.7" cy="343.6" r="3.7" fill="#0972f2"/><circle cx="890.9" cy="340.4" r="3.7" fill="#0972f2"/><circle cx="894.2" cy="339.8" r="3.7" fill="#086def"/><circle cx="898.5" cy="340.4" r="3.7" fill="#0972f2"/><circle cx="902.3" cy="336.6" r="3.7" fill="#0972f2"/><circle cx="902.3" cy="343.6" r="3.7" fill="#0972f2"/><circle cx="906.0" cy="340.4" r="3.7" fill="#0972f2"/><circle cx="909.3" cy="340.4" r="3.7" fill="#086def"/><circle cx="913.6" cy="340.9" r="3.7" fill="#0972f2"/><circle cx="917.9" cy="338.2" r="3.7" fill="#0972f2"/><circle cx="919.0" cy="342.0" r="3.7" fill="#0972f2"/><circle cx="922.2" cy="340.4" r="3.7" fill="#0972f2"/><circle cx="926.6" cy="340.4" r="3.7" fill="#0972f2"/><circle cx="929.8" cy="340.4" r="3.7" fill="#0972f2"/><circle cx="941.1" cy="340.4" r="3.7" fill="#0972f2"/><circle cx="973.0" cy="340.4" r="3.7" fill="#086def"/><circle cx="977.9" cy="337.7" r="3.7" fill="#764cd0"/><circle cx="978.4" cy="343.1" r="3.7" fill="#f90067"/><circle cx="980.6" cy="340.4" r="3.7" fill="#9b23ad"/><circle cx="987.6" cy="322.0" r="3.7" fill="#fe005c"/><circle cx="987.6" cy="325.8" r="3.7" fill="#f90067"/><circle cx="987.6" cy="329.6" r="3.7" fill="#6654d8"/><circle cx="987.6" cy="333.4" r="3.7" fill="#4f5ce0"/><circle cx="987.6" cy="337.1" r="3.7" fill="#f90067"/><circle cx="987.6" cy="340.4" r="3.7" fill="#fe005c"/><circle cx="987.6" cy="344.2" r="3.7" fill="#e9007c"/><circle cx="987.6" cy="352.8" r="3.7" fill="#bb00a0"/><circle cx="987.6" cy="349.0" r="3.7" fill="#086def"/><circle cx="987.6" cy="356.0" r="3.7" fill="#086def"/><circle cx="987.6" cy="358.2" r="3.7" fill="#086def"/><circle cx="993.5" cy="336.6" r="3.7" fill="#f90067"/><circle cx="994.0" cy="342.0" r="3.7" fill="#9135ba"/><circle cx="997.8" cy="339.8" r="3.7" fill="#6654d8"/><circle cx="1001.6" cy="340.4" r="3.7" fill="#086def"/></g>
<line x1="660" y1="395.1" x2="1303.6" y2="395.1" stroke="#000" stroke-width="1.5"/>
<line x1="674.10" y1="395" x2="674.10" y2="401" stroke="#333" stroke-width="1.5"/>
<text x="674.10" y="421.5" font-size="20.2" fill="#333" text-anchor="middle">-0.2</text>
<line x1="815.25" y1="395" x2="815.25" y2="401" stroke="#333" stroke-width="1.5"/>
<text x="815.25" y="421.5" font-size="20.2" fill="#333" text-anchor="middle">-0.1</text>
<line x1="956.40" y1="395" x2="956.40" y2="401" stroke="#333" stroke-width="1.5"/>
<text x="956.40" y="421.5" font-size="20.2" fill="#333" text-anchor="middle">0.0</text>
<line x1="1097.55" y1="395" x2="1097.55" y2="401" stroke="#333" stroke-width="1.5"/>
<text x="1097.55" y="421.5" font-size="20.2" fill="#333" text-anchor="middle">0.1</text>
<line x1="1238.70" y1="395" x2="1238.70" y2="401" stroke="#333" stroke-width="1.5"/>
<text x="1238.70" y="421.5" font-size="20.2" fill="#333" text-anchor="middle">0.2</text>
<text x="981.5" y="450.3" font-size="23.3" fill="#000" text-anchor="middle">SHAP value (impact on model output)</text>
<text x="617.5" y="76.2" font-size="23.3" fill="#333" text-anchor="end">wavelet_HLL_glcm_Idn</text>
<text x="617.5" y="130.7" font-size="23.3" fill="#333" text-anchor="end">wavelet_HLH_glcm_Correlation</text>
<text x="617.5" y="185.2" font-size="23.3" fill="#333" text-anchor="end">wavelet_LLL_ngtdm_Coarseness</text>
<text x="617.5" y="239.7" font-size="23.3" fill="#333" text-anchor="end">original_shape_Elongation</text>
<text x="617.5" y="294.2" font-size="23.3" fill="#333" text-anchor="end">log_sigma_3_0_mm_3D_hessian_AxisX30Percentile</text>
<text x="617.5" y="348.7" font-size="23.3" fill="#333" text-anchor="end">wavelet_LHH_gldm_SmallDependenceHighGrayLevelEmphasis</text>
<defs><linearGradient id="cb" x1="0" y1="1" x2="0" y2="0"><stop offset="0.0" stop-color="#0a77f3"/><stop offset="0.05" stop-color="#0972f2"/><stop offset="0.1" stop-color="#086def"/><stop offset="0.15" stop-color="#0668eb"/><stop offset="0.2" stop-color="#2862e6"/><stop offset="0.25" stop-color="#4f5ce0"/><stop offset="0.3" stop-color="#6654d8"/><stop offset="0.35" stop-color="#764cd0"/><stop offset="0.4" stop-color="#8443c6"/><stop offset="0.45" stop-color="#9135ba"/><stop offset="0.5" stop-color="#9b23ad"/><stop offset="0.55" stop-color="#ab15a7"/><stop offset="0.6" stop-color="#bb00a0"/><stop offset="0.65" stop-color="#c80098"/><stop offset="0.7" stop-color="#d5008f"/><stop offset="0.75" stop-color="#e00086"/><stop offset="0.8" stop-color="#e9007c"/><stop offset="0.85" stop-color="#f20072"/><stop offset="0.9" stop-color="#f90067"/><stop offset="0.95" stop-color="#fe005c"/><stop offset="1.0" stop-color="#ff0051"/></linearGradient></defs>
<rect x="1343" y="13.4" width="5" height="381.2" fill="url(#cb)"/>
<text x="1355" y="20.6" font-size="20" fill="#000">High</text>
<text x="1355" y="402" font-size="20" fill="#000">Low</text>
<text transform="translate(1408.4 204.6) rotate(-90)" font-size="21.5" fill="#000" text-anchor="middle">Feature value</text>
</svg></body></html>
